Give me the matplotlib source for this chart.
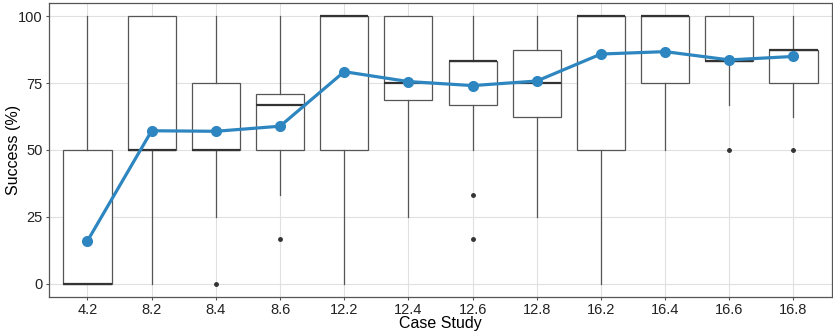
import matplotlib
matplotlib.use("Agg")
import matplotlib.pyplot as plt
import numpy as np

plt.rcParams['font.family'] = ['Liberation Sans', 'DejaVu Sans']

cases = ["4.2", "8.2", "8.4", "8.6", "12.2", "12.4", "12.6", "12.8", "16.2", "16.4", "16.6", "16.8"]

# box statistics
q1 = [0, 50, 50, 50, 50, 68.75, 66.7, 62.5, 50, 75, 83.3, 75]
med = [0, 50, 50, 66.7, 100, 75, 83.3, 75, 100, 100, 83.3, 87.5]
q3 = [50, 100, 75, 70.8, 100, 100, 83.3, 87.5, 100, 100, 100, 87.5]
whislo = [0, 0, 25, 33.3, 0, 25, 50, 25, 0, 50, 66.7, 62.5]
whishi = [100, 100, 100, 100, 100, 100, 100, 100, 100, 100, 100, 100]
fliers = [[], [], [0], [16.7], [], [], [33.3, 16.7], [], [], [], [50], [50]]

# mean success per case
means = [16.0, 57.2, 57.0, 58.9, 79.3, 75.6, 74.1, 75.8, 85.9, 86.8, 83.7, 85.0]

stats = []
for i in range(len(cases)):
    stats.append(dict(q1=q1[i], med=med[i], q3=q3[i], whislo=whislo[i],
                      whishi=whishi[i], fliers=fliers[i], label=cases[i]))

fig = plt.figure(figsize=(8.33, 3.32), dpi=100)
ax = fig.add_axes([0.0588, 0.1054, 0.94, 0.8856])

pos = np.arange(1, len(cases) + 1)
ax.bxp(stats, positions=pos, widths=0.75, showcaps=False, patch_artist=True,
       boxprops=dict(facecolor="white", edgecolor="#555555", linewidth=0.9),
       medianprops=dict(color="#333333", linewidth=1.6),
       whiskerprops=dict(color="#555555", linewidth=0.9),
       flierprops=dict(marker="o", markersize=2.5, markerfacecolor="#333333",
                       markeredgecolor="#333333"),
       zorder=2)

ax.plot(pos, means, color="#2E86C1", linewidth=2.3, marker="o", markersize=7, zorder=3)

ax.set_xlim(0.4, 12.6)
ax.set_ylim(-5, 105)
ax.set_yticks([0, 25, 50, 75, 100])
ax.set_xticks(pos)
ax.set_xticklabels(cases)
ax.grid(True, color="#e0e0e0", linewidth=0.8, zorder=0)
ax.set_axisbelow(True)
for s in ax.spines.values():
    s.set_color("#555555")
    s.set_linewidth(0.9)
ax.tick_params(colors="#555555", labelcolor="#222222", labelsize=10.5, length=2.5, width=0.8, pad=2)
ax.set_xlabel("Case Study", fontsize=11.5, labelpad=-1)
ax.set_ylabel("Success (%)", fontsize=11.5)
ax.yaxis.set_label_coords(-0.036, 0.5)

fig.savefig("out.png", dpi=100)
